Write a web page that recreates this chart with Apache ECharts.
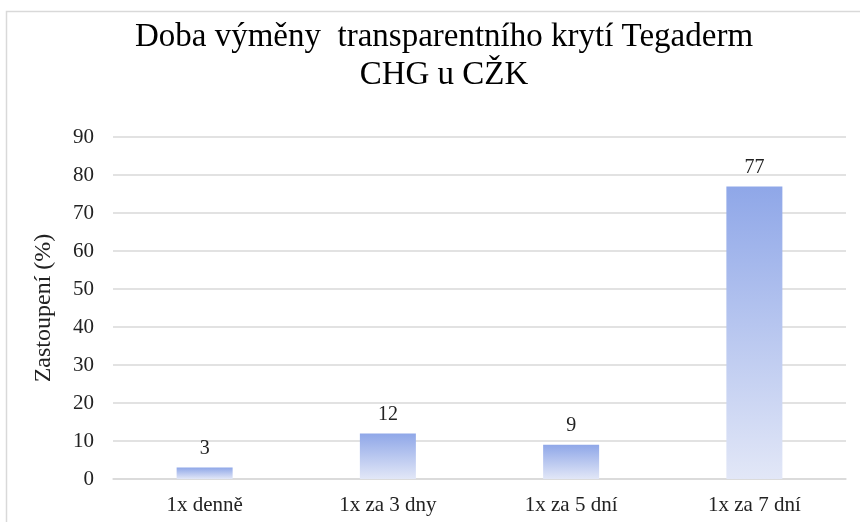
<!DOCTYPE html>
<html><head><meta charset="utf-8">
<script src="https://cdn.jsdelivr.net/npm/echarts@6/dist/echarts.min.js"></script>
<style>html,body{margin:0;padding:0;background:#fff}#c{width:860px;height:522px}</style>
</head><body><div id="c"></div>
<script>
const titleText = 'Doba výměny  transparentního krytí Tegaderm\nCHG u CŽK';
const categories = ['1x denně', '1x za 3 dny', '1x za 5 dní', '1x za 7 dní'];
const values = [3, 12, 9, 77];
const yAxisName = 'Zastoupení (%)';
const yMin = 0, yMax = 90, yStep = 10;

const font = '"Liberation Serif", "Times New Roman", serif';
const chart = echarts.init(document.getElementById('c'), null, {renderer: 'canvas'});
chart.setOption({
  animation: false,
  backgroundColor: '#fff',
  graphic: [{
    type: 'rect', silent: true, z: -10,
    shape: {x: 6.5, y: 11.5, width: 900, height: 600},
    style: {fill: 'none', stroke: '#d9d9d9', lineWidth: 1.5}
  }],
  title: {
    text: titleText, left: 439, textAlign: 'center', top: 13,
    textStyle: {fontFamily: font, fontSize: 33, fontWeight: 'normal', color: '#000', lineHeight: 38}
  },
  grid: {left: 113, right: 14, top: 137, bottom: 43},
  xAxis: {
    type: 'category', data: categories,
    axisLine: {lineStyle: {color: '#d9d9d9', width: 1.5}},
    axisTick: {show: false},
    axisLabel: {fontFamily: font, fontSize: 21, color: '#222', margin: 16}
  },
  yAxis: {
    type: 'value', min: yMin, max: yMax, interval: yStep,
    name: yAxisName, nameLocation: 'middle', nameGap: 57, nameRotate: 90,
    nameTextStyle: {fontFamily: font, fontSize: 24, color: '#222'},
    axisLine: {show: false}, axisTick: {show: false},
    splitLine: {lineStyle: {color: '#d9d9d9', width: 1.5}},
    axisLabel: {fontFamily: font, fontSize: 21, color: '#222', margin: 19}
  },
  series: [{
    type: 'bar', data: values, barWidth: 56,
    itemStyle: {
      color: new echarts.graphic.LinearGradient(0, 0, 0, 1, [
        {offset: 0, color: '#8fa7e8'},
        {offset: 1, color: '#e2e7f7'}
      ])
    },
    label: {show: true, position: 'top', distance: 9, fontFamily: font, fontSize: 20, color: '#222'}
  }]
});
</script></body></html>
